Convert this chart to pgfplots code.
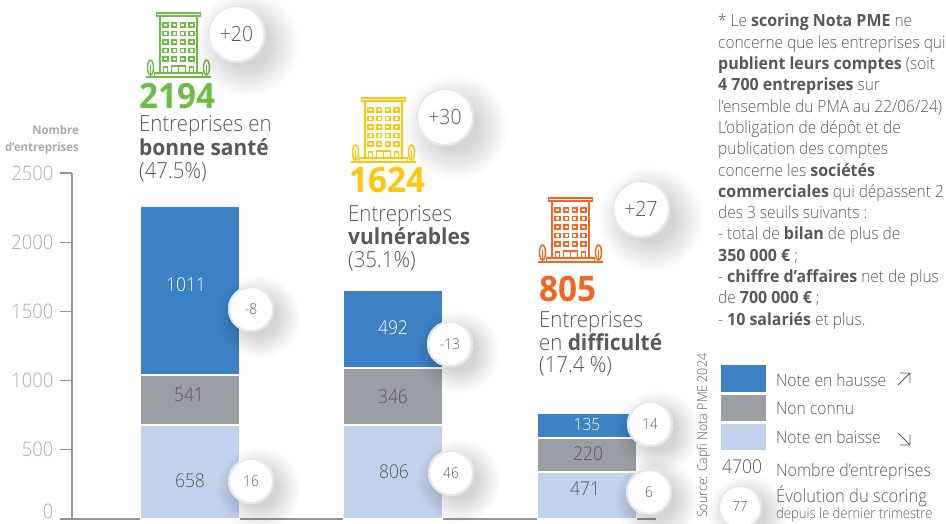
\documentclass[border=0pt]{standalone}
\usepackage{fontspec}
\setmainfont{Open Sans Light}[FakeStretch=0.92,BoldFont={Open Sans Bold},BoldFeatures={FakeStretch=0.95}]
\usepackage{pgfplots}
\pgfplotsset{compat=1.18}
\usepackage{pgfplotstable}
\definecolor{cblue}{HTML}{3B82C4}
\definecolor{cgray}{HTML}{9B9EA2}
\definecolor{clight}{HTML}{C3D2EC}
\definecolor{cdark}{HTML}{58595B}
\definecolor{cmid}{HTML}{58595B}
\definecolor{ctick}{HTML}{A7A9AC}
\definecolor{caxis}{HTML}{939598}
\definecolor{cgreen}{HTML}{6CBD45}
\definecolor{cyellow}{HTML}{FFC60B}
\definecolor{corange}{HTML}{F26522}
\definecolor{cring}{HTML}{E6E7E8}
% bar heights as drawn against the axis (the printed labels are set as text)
\pgfplotstableread{
x    baisse connu hausse
190  679    361   1221
393  679    412   564
587  340    246   181
}\bars
\newcommand{\fs}[1]{\fontsize{#1}{#1}\selectfont}
\newcommand{\bub}[5]{% x y r size text
  \foreach \k in {1,...,14}{
    \fill[black,opacity=0.011] (#1+#3*0.35,#2+#3*0.35) circle ({#3*0.75+\k*#3*0.075});
  }
  \fill[white] (#1,#2) circle (#3);
  \draw[cring,line width=2pt] (#1,#2) circle (#3-1);
  \node[text=cdark,inner sep=0pt] at (#1,#2) {\fs{#4}#5};
}
\newcommand{\building}[3]{% colour cx top
  \begin{scope}[shift={(#2,#3)},draw=#1,line width=1.8pt]
    \draw (-22,0) rectangle (22,3);
    \draw (-18.5,3) -- (-18.5,59) (18.5,3) -- (18.5,59);
    \foreach \cx in {-12.9,-4.3,4.3,12.9}{
      \foreach \cy in {12,20.5,29,37.5,46}{
        \draw[line width=1.5pt] (\cx-2.4,\cy-2.2) rectangle (\cx+2.4,\cy+2.2);
      }
    }
    \draw (-24,64) -- (-24,60) -- (24,60) -- (24,64);
    \draw (-32.5,64) -- (32.5,64);
    \draw[line width=1.5pt] (-7,60) -- (-7,53) -- (7,53) -- (7,60) (0,53) -- (0,60);
    \draw[line width=1.5pt] (-15,60) -- (-15,54) -- (-11,54) -- (-11,60);
    \draw[line width=1.5pt] (15,60) -- (15,54) -- (11,54) -- (11,60);
    \draw[line width=1.5pt] (-28,54.5) ellipse (3 and 7.5);
    \draw[line width=1.5pt] (28,54.5) ellipse (3 and 7.5);
    \draw[line width=1.5pt] (-28,52) -- (-28,64) (28,52) -- (28,64);
  \end{scope}
}
\begin{document}
\begin{tikzpicture}[x=1pt,y=1pt]
\path[use as bounding box] (0,0) rectangle (946,523);
\begin{axis}[
  at={(72pt,4pt)},anchor=south west,
  scale only axis,width=584pt,height=346pt,
  xmin=72,xmax=656,ymin=0,ymax=2500,
  axis y line=left,axis x line=bottom,
  axis line style={caxis,line width=1.2pt,-},
  xtick=\empty,
  ytick={0,500,1000,1500,2000,2500},
  yticklabels={\raisebox{1pt}[0pt][0pt]{0},500,1000,1500,2000,2500},
  tick align=outside,
  major tick length=12pt,
  ytick style={caxis,line width=1.2pt},
  y tick label style={text=ctick,font=\fs{20},xshift=-3pt},
  clip=false,
  ybar stacked,bar width=99pt,
  every axis plot/.append style={draw=white,line width=1.5pt},
]
\addplot[fill=clight] table[x=x,y=baisse] {\bars};
\addplot[fill=cgray] table[x=x,y=connu] {\bars};
\addplot[fill=cblue] table[x=x,y=hausse] {\bars};
\end{axis}
\begin{scope}[x=1pt,y=-1pt,yshift=523pt]
% bar labels
\node[text=white,inner sep=0pt] at (186,285) {\fs{19}1011};
\node[text=cdark,inner sep=0pt] at (189,395) {\fs{19}541};
\node[text=cdark,inner sep=0pt] at (190,481) {\fs{19}658};
\node[text=white,inner sep=0pt] at (393,328) {\fs{19}492};
\node[text=cdark,inner sep=0pt] at (393,397) {\fs{19}346};
\node[text=cdark,inner sep=0pt] at (394,472) {\fs{19}806};
\node[text=white,inner sep=0pt] at (587,424) {\fs{17}135};
\node[text=cdark,inner sep=0pt] at (588,454) {\fs{19}220};
\node[text=cdark,inner sep=0pt] at (585,489) {\fs{19}471};
% axis title
\node[anchor=base east,inner sep=0pt,text=ctick] at (79,135) {\fs{12}\bfseries\addfontfeature{FakeStretch=0.72}Nombre};
\node[anchor=base east,inner sep=0pt,text=ctick] at (79,152) {\fs{12}\bfseries\addfontfeature{FakeStretch=0.72}d’entreprises};
% buildings
\building{cgreen}{178.5}{13}
\building{cyellow}{383.5}{98}
\building{corange}{570.5}{198}
% bubbles
\bub{236.5}{34}{29}{21}{+20}
\bub{445}{117}{29}{21}{+30}
\bub{641}{209}{29}{21}{+27}
\bub{251}{309}{23}{15}{-8}
\bub{450}{344}{23}{15}{-13}
\bub{251}{481}{23}{15}{16}
\bub{451}{473}{23}{15}{46}
\bub{650}{424}{23}{15}{14}
\bub{649}{492}{23}{15}{6}
\bub{740}{507}{22}{14}{77}
% block 1
\node[anchor=base west,inner sep=0pt,text=cgreen] at (139,109) {\fs{35}\bfseries 2194};
\node[anchor=base west,inner sep=0pt,text=cmid] at (139,132) {\fs{22.2}Entreprises en};
\node[anchor=base west,inner sep=0pt,text=cdark] at (139,156) {\fs{22}\bfseries bonne santé};
\node[anchor=base west,inner sep=0pt,text=cmid] at (139,179) {\fs{22.2}(47.5\%)};
% block 2
\node[anchor=base west,inner sep=0pt,text=cyellow] at (349,193) {\fs{35}\bfseries 1624};
\node[anchor=base west,inner sep=0pt,text=cmid] at (348,222) {\fs{22.2}Entreprises};
\node[anchor=base west,inner sep=0pt,text=cdark] at (348,245) {\fs{22}\bfseries vulnérables};
\node[anchor=base west,inner sep=0pt,text=cmid] at (348,268) {\fs{22.2}(35.1\%)};
% block 3
\node[anchor=base west,inner sep=0pt,text=corange] at (539,301) {\fs{35}\bfseries 805};
\node[anchor=base west,inner sep=0pt,text=cmid] at (539,327) {\fs{22.2}Entreprises};
\node[anchor=base west,inner sep=0pt,text=cmid] at (539,350) {\fs{22.2}en {\color{cdark}\fs{22}\bfseries difficulté}};
\node[anchor=base west,inner sep=0pt,text=cmid] at (539,373) {\fs{22.2}(17.4 \%)};
% note
\foreach \yy/\tt in {
 27/{* Le {\bfseries\color{cdark}scoring Nota PME} ne},
 48.3/{concerne que les entreprises qui},
 69.6/{{\bfseries\color{cdark}publient leurs comptes} (soit},
 90.9/{{\bfseries\color{cdark}4 700 entreprises} sur},
 112.2/{l’ensemble du PMA au 22/06/24)},
 133.5/{L’obligation de dépôt et de},
 154.8/{publication des comptes},
 176.1/{concerne les {\bfseries\color{cdark}sociétés}},
 197.4/{{\bfseries\color{cdark}commerciales} qui dépassent 2},
 218.7/{des 3 seuils suivants :},
 240/{- total de {\bfseries\color{cdark}bilan} de plus de},
 261.3/{{\bfseries\color{cdark}350  000 €} ;},
 282.6/{- {\bfseries\color{cdark}chiffre d'affaires} net de plus},
 303.9/{de {\bfseries\color{cdark}700 000 €} ;},
 325.2/{- {\bfseries\color{cdark}10 salariés} et plus.}}{
  \node[anchor=base west,inner sep=0pt,text=cmid] at (718,\yy) {\fs{16.8}\tt};
}
% source
\node[anchor=base west,inner sep=0pt,text=cmid,rotate=90] at (707,518) {\fs{13.5}Source: Capfi Nota PME 2024};
% legend
\fill[cblue] (721,365) rectangle (766,392);
\fill[cgray] (721,395) rectangle (766,421);
\fill[clight] (721,424) rectangle (766,450);
\node[anchor=base west,inner sep=0pt,text=cdark] at (776,386) {\fs{17}Note en hausse};
\node[anchor=base west,inner sep=0pt,text=cdark] at (776,414) {\fs{17}Non connu};
\node[anchor=base west,inner sep=0pt,text=cdark] at (776,443) {\fs{17}Note en baisse};
\draw[cdark,line width=0.9pt] (898,385) -- (910,373) (900,373) -- (910,373) -- (910,383);
\draw[cdark,line width=0.9pt] (898,433) -- (910,445) (900,445) -- (910,445) -- (910,435);
\node[anchor=base west,inner sep=0pt,text=cdark] at (722,473) {\fs{19}4700};
\node[anchor=base west,inner sep=0pt,text=cdark] at (776,476) {\fs{17.3}Nombre d’entreprises};
\node[anchor=base west,inner sep=0pt,text=cdark] at (776,502) {\fs{18}Évolution du scoring};
\node[anchor=base west,inner sep=0pt,text=cdark] at (776,518) {\fs{14.2}depuis le dernier trimestre};
\end{scope}
\end{tikzpicture}
\end{document}
